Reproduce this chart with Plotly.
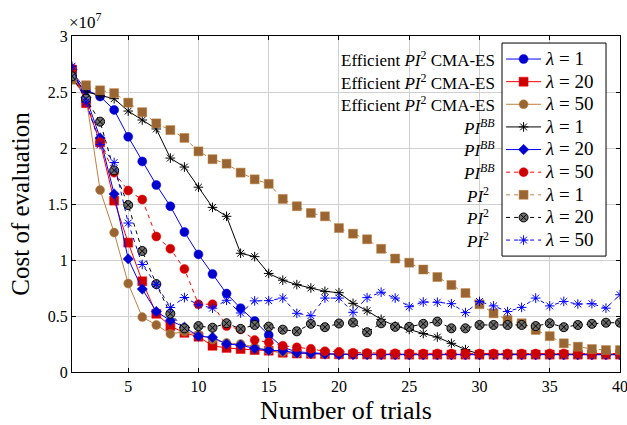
import plotly.graph_objects as go

# x: trial number, y: cost of evaluation in units of 1e7
trials = list(range(1, 41))

eff_l1 = [2.68, 2.52, 2.46, 2.34, 2.10, 1.88, 1.67, 1.48, 1.25, 1.05,
          0.875, 0.70, 0.57, 0.455, 0.33, 0.22, 0.18, 0.17, 0.165, 0.16,
          0.16, 0.158, 0.157, 0.156, 0.155, 0.155, 0.155, 0.155, 0.155, 0.155,
          0.155, 0.155, 0.155, 0.155, 0.155, 0.155, 0.155, 0.155, 0.155, 0.155]
eff_l20 = [2.70, 2.40, 2.05, 1.53, 1.155, 0.81, 0.52, 0.41, 0.35, 0.315,
           0.234, 0.215, 0.205, 0.196, 0.19, 0.172, 0.165, 0.162, 0.16, 0.158,
           0.157, 0.156, 0.155, 0.155, 0.155, 0.155, 0.155, 0.155, 0.155, 0.155,
           0.155, 0.155, 0.155, 0.155, 0.155, 0.155, 0.155, 0.155, 0.155, 0.155]
eff_l50 = [2.62, 2.45, 1.625, 1.245, 0.79, 0.49, 0.42, 0.34, 0.36, 0.335,
           0.29, 0.26, 0.25, 0.22, 0.196, 0.18, 0.17, 0.165, 0.162, 0.16,
           0.158, 0.157, 0.157, 0.157, 0.157, 0.157, 0.157, 0.157, 0.157, 0.157,
           0.157, 0.157, 0.157, 0.157, 0.157, 0.157, 0.157, 0.157, 0.157, 0.157]
bb_l1 = [2.65, 2.50, 2.47, 2.44, 2.33, 2.25, 2.17, 1.91, 1.83, 1.65,
         1.47, 1.39, 1.06, 1.03, 0.88, 0.82, 0.78, 0.75, 0.72, 0.708,
         0.613, 0.547, 0.47, 0.41, 0.38, 0.343, 0.312, 0.256, 0.20, 0.16,
         0.16, 0.16, 0.16, 0.16, 0.16, 0.16, 0.16, 0.16, 0.16, 0.16]
bb_l20 = [2.70, 2.45, 2.09, 1.59, 1.01, 0.74, 0.54, 0.46, 0.40, 0.32,
          0.31, 0.25, 0.24, 0.21, 0.195, 0.19, 0.17, 0.165, 0.16, 0.155,
          0.155, 0.155, 0.155, 0.155, 0.155, 0.155, 0.155, 0.155, 0.155, 0.155,
          0.155, 0.155, 0.155, 0.155, 0.155, 0.155, 0.155, 0.155, 0.155, 0.155]
bb_l50 = [2.71, 2.42, 2.05, 1.78, 1.62, 1.54, 1.21, 1.10, 0.92, 0.605,
          0.605, 0.41, 0.38, 0.285, 0.265, 0.235, 0.22, 0.207, 0.185, 0.18,
          0.172, 0.17, 0.168, 0.167, 0.166, 0.165, 0.165, 0.165, 0.165, 0.165,
          0.165, 0.165, 0.165, 0.165, 0.165, 0.165, 0.165, 0.165, 0.165, 0.165]
pi2_l1 = [2.61, 2.56, 2.515, 2.49, 2.405, 2.32, 2.22, 2.16, 2.09, 1.97,
          1.90, 1.86, 1.78, 1.72, 1.68, 1.545, 1.48, 1.42, 1.39, 1.285,
          1.235, 1.185, 1.10, 1.013, 0.976, 0.915, 0.848, 0.777, 0.705, 0.605,
          0.524, 0.464, 0.435, 0.375, 0.32, 0.256, 0.226, 0.205, 0.196, 0.196]
pi2_l20 = [2.64, 2.44, 2.235, 1.80, 1.49, 1.08, 0.785, 0.52, 0.39, 0.41,
           0.395, 0.435, 0.385, 0.42, 0.405, 0.378, 0.363, 0.43, 0.40, 0.433,
           0.442, 0.355, 0.435, 0.403, 0.403, 0.43, 0.45, 0.39, 0.39, 0.42,
           0.42, 0.42, 0.42, 0.41, 0.435, 0.40, 0.42, 0.43, 0.44, 0.44]
pi2_l50 = [2.73, 2.41, 2.03, 1.87, 1.33, 0.96, 0.78, 0.576, 0.665, 0.60,
           0.57, 0.64, 0.527, 0.635, 0.637, 0.66, 0.524, 0.503, 0.66, 0.66,
           0.533, 0.664, 0.712, 0.66, 0.583, 0.625, 0.623, 0.61, 0.53, 0.63,
           0.59, 0.54, 0.577, 0.66, 0.59, 0.63, 0.607, 0.61, 0.57, 0.69]

lambdas = ["1", "20", "50"] * 3
method_labels = ["Efficient <i>PI</i><sup>2</sup> CMA-ES"] * 3 + \
                ["<i>PI<sup>BB</sup></i>"] * 3 + ["<i>PI</i><sup>2</sup>"] * 3

x_ticks = [5, 10, 15, 20, 25, 30, 35, 40]
y_ticks = [0, 0.5, 1, 1.5, 2, 2.5, 3]
y_ticklabels = ["0", "0.5", "1", "1.5", "2", "2.5", "3"]

BLUE, BLUE_F = "#0000ff", "#0000cc"
RED, RED_F = "#ff0000", "#cc0000"
BROWN, BROWN_F = "#bf8040", "#996633"

series = [
    (eff_l1, BLUE, "solid", dict(symbol="circle", size=9, color=BLUE_F, line=dict(color=BLUE, width=0.5))),
    (eff_l20, RED, "solid", dict(symbol="square", size=9, color=RED_F, line=dict(color=RED, width=0.5))),
    (eff_l50, BROWN, "solid", dict(symbol="circle", size=9, color=BROWN_F, line=dict(color=BROWN, width=0.5))),
    (bb_l1, "black", "solid", dict(symbol="asterisk-open", size=8, color="black", line=dict(color="black", width=1))),
    (bb_l20, BLUE, "solid", dict(symbol="diamond", size=8, color=BLUE_F, line=dict(color=BLUE, width=0.5))),
    (bb_l50, RED, "4px,4px", dict(symbol="circle", size=9, color=RED_F, line=dict(color=RED, width=0.5))),
    (pi2_l1, BROWN, "4px,4px", dict(symbol="square", size=9, color=BROWN_F, line=dict(color=BROWN, width=0.5))),
    (pi2_l20, "black", "4px,4px", dict(symbol="circle-x", size=9, color="#6e6e6e", line=dict(color="black", width=1))),
    (pi2_l50, BLUE, "4px,4px", dict(symbol="asterisk-open", size=8, color=BLUE, line=dict(color=BLUE, width=1))),
]

FONT = "Liberation Serif"

fig = go.Figure()
for (vals, col, dash, mk), lam in zip(series, lambdas):
    name = '<span style="font-size:19px"><i>λ</i> = %s</span>' % lam
    fig.add_trace(go.Scatter(x=trials, y=vals, mode="lines+markers", name=name,
                             line=dict(color=col, width=1, dash=dash), marker=mk))

fig.update_layout(
    width=627, height=425,
    margin=dict(l=72, r=7, t=36, b=53, autoexpand=False),
    plot_bgcolor="white", paper_bgcolor="white",
    font=dict(family=FONT, size=16, color="black"),
    showlegend=True,
    legend=dict(x=0.783, y=0.980, xanchor="left", yanchor="top",
                bgcolor="rgba(0,0,0,0)", borderwidth=0,
                font=dict(family=FONT, size=15.1), itemwidth=35,
                tracegroupgap=0),
    xaxis=dict(range=[1, 40], tickvals=x_ticks, showgrid=True, gridcolor="#d0d0d0",
               gridwidth=1, showline=True, linecolor="black", linewidth=1.2, mirror="ticks",
               ticks="inside", ticklen=4, tickcolor="black", zeroline=False,
               tickfont=dict(size=16), ticklabeloverflow="allow", automargin=False,
               title=dict(text="Number of trials", font=dict(size=26), standoff=6)),
    yaxis=dict(range=[0, 3], tickvals=y_ticks, ticktext=y_ticklabels, showgrid=True,
               gridcolor="#d0d0d0", gridwidth=1, showline=True, linecolor="black",
               linewidth=1.2, mirror="ticks", ticks="inside", ticklen=4, tickcolor="black",
               zeroline=False, tickfont=dict(size=16), automargin=False,
               title=dict(text="Cost of evaluation", font=dict(size=25), standoff=10)),
)

# legend frame (drawn as a white box behind the legend entries)
fig.add_shape(type="rect", xref="paper", yref="paper", x0=0.7847, x1=0.9745,
              y0=0.345, y1=0.979, line=dict(color="black", width=1),
              fillcolor="white", layer="above")

fig.add_annotation(text="×10<sup>7</sup>", xref="paper", yref="paper", x=-0.01, y=1.005,
                   xanchor="left", yanchor="bottom", showarrow=False, font=dict(size=17))

for i, lab in enumerate(method_labels):
    fig.add_annotation(text=lab, xref="paper", yref="paper",
                       x=0.7755 if i < 6 else 0.765,
                       y=(372 - 59 - i * 22.6) / 336, xanchor="right", yanchor="middle",
                       showarrow=False, font=dict(size=17))

fig.write_html("out.html")
